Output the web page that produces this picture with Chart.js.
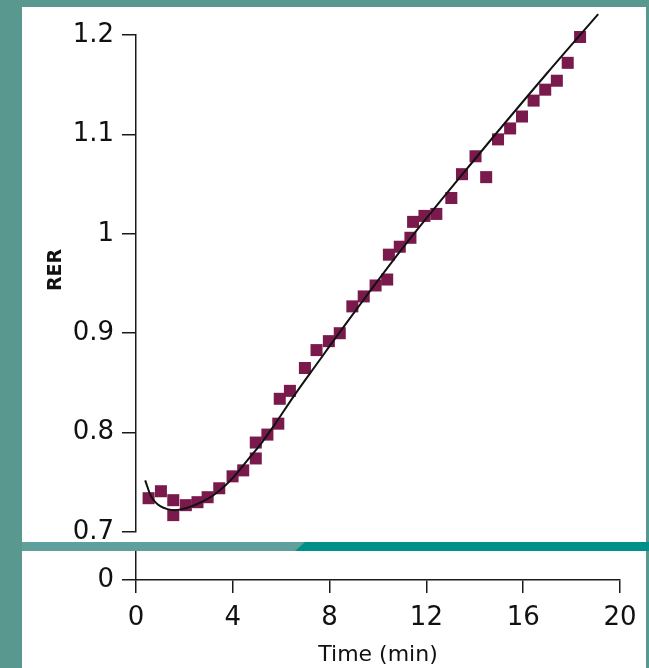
<!DOCTYPE html>
<html>
<head>
<meta charset="utf-8">
<title>RER vs time</title>
<script src="https://cdn.jsdelivr.net/npm/chart.js@4.4.1/dist/chart.umd.min.js"></script>
<style>
  html, body { margin: 0; padding: 0; }
  body { width: 649px; height: 668px; overflow: hidden; background: #58988f; position: relative; }
  .panel { position: absolute; left: 22px; width: 624px; background: #fff; }
  #upperPanel { top: 7px; height: 535px; }
  #lowerPanel { top: 551px; height: 117px; }
  #bandLight { position: absolute; left: 22px; top: 542px; width: 627px; height: 9px; background: #60a09c; }
  #bandDark { position: absolute; left: 22px; top: 542px; width: 627px; height: 9px; background: #00908a;
              clip-path: polygon(283px 0, 100% 0, 100% 100%, 273px 100%); }
  canvas { display: block; }
</style>
</head>
<body>
<div id="upperPanel" class="panel"><canvas id="upper" width="624" height="535"></canvas></div>
<div id="bandLight"></div>
<div id="bandDark"></div>
<div id="lowerPanel" class="panel"><canvas id="lower" width="624" height="117"></canvas></div>
<script>
// Measured respiratory exchange ratio during the test
const timeMin = [0.52, 1.03, 1.54, 1.54, 2.06, 2.54, 2.96, 3.44, 3.99, 4.43,
                 4.95, 4.95, 5.43, 5.88, 5.94, 6.36, 6.98, 7.46, 7.97, 8.42,
                 8.94, 9.41, 9.90, 10.38, 10.45, 10.90, 11.34, 11.45, 11.92, 12.41,
                 13.03, 13.47, 14.03, 14.47, 14.96, 15.46, 15.95, 16.43, 16.91, 17.39,
                 17.84, 18.35];
const rerValues = [0.734, 0.741, 0.732, 0.717, 0.727, 0.730, 0.735, 0.744, 0.756, 0.762,
                   0.774, 0.790, 0.798, 0.809, 0.834, 0.842, 0.865, 0.883, 0.892, 0.900,
                   0.927, 0.937, 0.948, 0.954, 0.979, 0.987, 0.996, 1.012, 1.018, 1.020,
                   1.036, 1.060, 1.078, 1.057, 1.095, 1.106, 1.118, 1.134, 1.145, 1.154,
                   1.172, 1.198];

// Fitted trend curve
const fitTime = [0.38, 0.6, 0.8, 1.0, 1.3, 1.6, 1.9, 2.2, 2.7, 3.2, 3.7, 4.2, 4.7,
                 5.2, 5.7, 6.5, 7.5, 8.45, 11.0, 14.0, 17.0, 19.1];
const fitRer = [0.752, 0.737, 0.730, 0.726, 0.723, 0.722, 0.723, 0.725, 0.730, 0.737,
                0.747, 0.760, 0.775, 0.790, 0.807, 0.836, 0.870, 0.902, 0.985, 1.075,
                1.162, 1.221];

// Axis ticks
const yTickValues = [0.7, 0.8, 0.9, 1.0, 1.1, 1.2];
const yTickLabels = ['0.7', '0.8', '0.9', '1', '1.1', '1.2'];
const xTickValues = [0, 4, 8, 12, 16, 20];
const xTickLabels = ['0', '4', '8', '12', '16', '20'];
const lowerTickValues = [0];
const lowerTickLabels = ['0'];

const yAxisTitle = 'RER';
const xAxisTitle = 'Time (min)';

Chart.defaults.font.family = '"DejaVu Sans", sans-serif';
Chart.defaults.color = '#111';

const ink = '#1a1a1a';
const axisGrid = { drawOnChartArea: false, drawTicks: true, tickLength: 14, color: ink, lineWidth: 1.5 };
const axisBorder = { display: true, color: ink, width: 1.5 };

// Rotated "RER" label beside the upper axis
const rerTitle = {
  id: 'rerTitle',
  afterDraw(chart) {
    const ctx = chart.ctx;
    ctx.save();
    ctx.translate(34, 263);
    ctx.rotate(-Math.PI / 2);
    ctx.font = 'bold 19px "DejaVu Sans", sans-serif';
    ctx.textAlign = 'center';
    ctx.textBaseline = 'middle';
    ctx.fillStyle = '#111';
    ctx.fillText(yAxisTitle, 0, 0);
    ctx.restore();
  }
};

// Upper panel: broken axis segment 0.7 - 1.2
new Chart(document.getElementById('upper'), {
  type: 'scatter',
  data: {
    datasets: [
      {
        type: 'line',
        data: fitTime.map((t, i) => ({ x: t, y: fitRer[i] })),
        borderColor: '#111',
        borderWidth: 2,
        pointRadius: 0,
        cubicInterpolationMode: 'monotone',
        fill: false,
        clip: false
      },
      {
        data: timeMin.map((t, i) => ({ x: t, y: rerValues[i] })),
        pointStyle: 'rect',
        pointRadius: 8.5,
        backgroundColor: '#7a1a4c',
        borderColor: '#7a1a4c',
        borderWidth: 0,
        clip: false
      }
    ]
  },
  options: {
    responsive: false,
    animation: false,
    devicePixelRatio: 1,
    layout: { padding: { left: 0, right: 26, top: 28, bottom: 10 } },
    plugins: { legend: { display: false }, tooltip: { enabled: false } },
    scales: {
      x: { type: 'linear', min: 0, max: 20, display: false },
      y: {
        type: 'linear', min: 0.7, max: 1.2,
        afterBuildTicks(s) { s.ticks = yTickValues.map(v => ({ value: v })); },
        afterFit(s) { s.width = 114; s.paddingTop = 0; s.paddingBottom = 0; },
        ticks: {
          autoSkip: false, padding: 8, color: '#111', font: { size: 26 },
          callback: v => yTickLabels[yTickValues.indexOf(v)]
        },
        grid: axisGrid,
        border: axisBorder
      }
    }
  },
  plugins: [rerTitle]
});

// Lower panel: zero baseline with the time axis
new Chart(document.getElementById('lower'), {
  type: 'scatter',
  data: { datasets: [{ data: [] }] },
  options: {
    responsive: false,
    animation: false,
    devicePixelRatio: 1,
    layout: { padding: { left: 0, right: 26, top: 0, bottom: 0 } },
    plugins: { legend: { display: false }, tooltip: { enabled: false } },
    scales: {
      x: {
        type: 'linear', min: 0, max: 20, position: 'bottom',
        afterBuildTicks(s) { s.ticks = xTickValues.map(v => ({ value: v })); },
        afterFit(s) { s.height = 88; s.paddingLeft = 0; s.paddingRight = 0; },
        ticks: {
          autoSkip: false, maxRotation: 0, padding: 10, color: '#111', font: { size: 26 },
          callback: v => xTickLabels[xTickValues.indexOf(v)]
        },
        grid: Object.assign({}, axisGrid, { tickLength: 13 }),
        border: axisBorder,
        title: { display: true, text: xAxisTitle, color: '#111', font: { size: 22 }, padding: { top: 0, bottom: 0 } }
      },
      y: {
        type: 'linear', min: 0, max: 1,
        afterBuildTicks(s) { s.ticks = lowerTickValues.map(v => ({ value: v })); },
        afterFit(s) { s.width = 114; s.paddingTop = 0; s.paddingBottom = 0; },
        ticks: {
          autoSkip: false, padding: 8, color: '#111', font: { size: 26 },
          callback: v => lowerTickLabels[lowerTickValues.indexOf(v)]
        },
        grid: axisGrid,
        border: axisBorder
      }
    }
  }
});
</script>
</body>
</html>
